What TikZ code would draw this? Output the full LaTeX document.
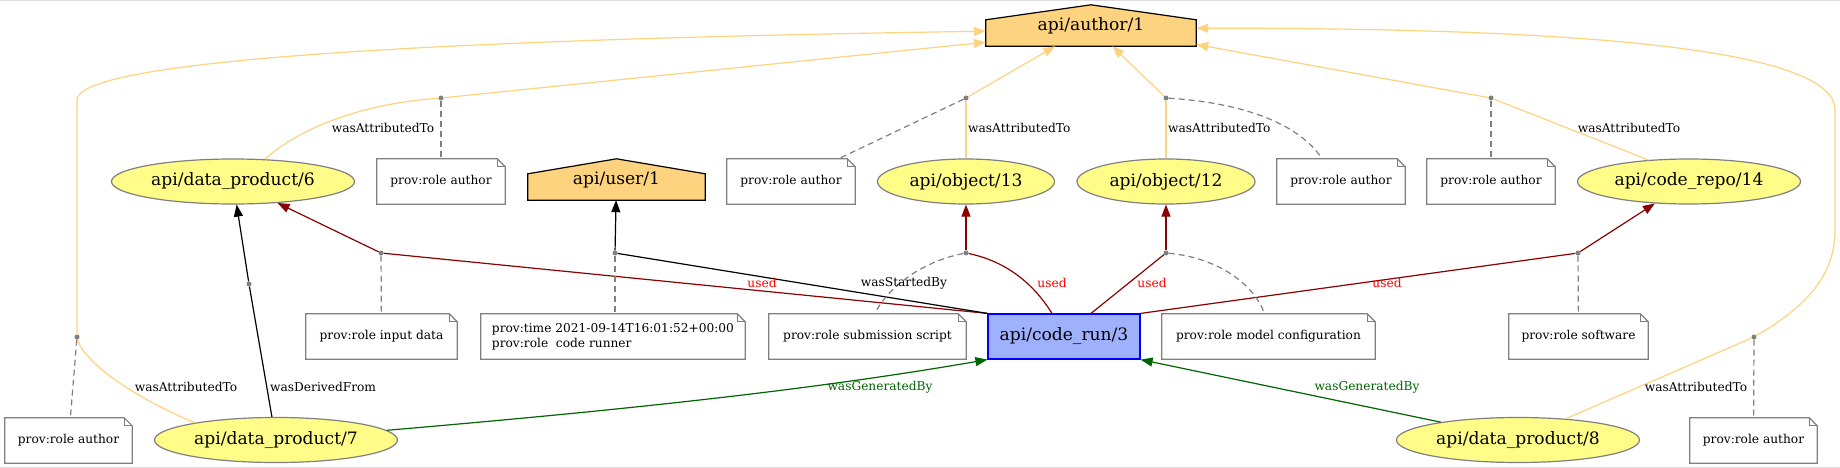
\documentclass[tikz,border=0pt]{standalone}
\usepackage{fontspec}
\setmainfont{DejaVu Serif}
\usetikzlibrary{arrows.meta,shapes.geometric,calc,backgrounds}
\definecolor{agentc}{HTML}{FED37F}
\definecolor{entityc}{HTML}{FFFC87}
\definecolor{actc}{HTML}{9FB1FC}
\definecolor{usedc}{HTML}{8B0000}
\definecolor{usedt}{HTML}{FF0000}
\definecolor{genc}{HTML}{006400}
\definecolor{notec}{HTML}{808080}
\definecolor{framec}{HTML}{DDDDDD}
\tikzset{
  bigfont/.style={font=\fontsize{17.1}{20}\selectfont},
  smallfont/.style={font=\fontsize{12.2}{15}\selectfont},
  entity/.style={ellipse, draw=notec, fill=entityc, line width=1.2pt, minimum height=45pt, inner sep=0pt, bigfont},
  agent/.style={rectangle, inner sep=0pt, minimum height=41pt, bigfont},
  agentshape/.style={draw=black, fill=agentc, line width=1.2pt, line join=miter},
  activity/.style={rectangle, draw=blue, fill=actc, line width=1.2pt, minimum width=152pt, minimum height=45pt, inner sep=0pt, bigfont},
  notebox/.style={rectangle, fill=white, minimum height=45pt, inner sep=0pt, smallfont, align=left},
  notedraw/.style={draw=notec, line width=1.2pt},
  dotpt/.style={circle, fill=notec, inner sep=0pt, minimum size=5pt},
  elabel/.style={inner sep=0pt, smallfont},
  arr/.style={-{Triangle[length=12pt,width=9pt]}},
  attr/.style={draw=agentc, line width=1.2pt},
  plainl/.style={draw=black, line width=1.2pt},
  usedl/.style={draw=usedc, line width=1.2pt},
  genl/.style={draw=genc, line width=1.2pt},
  noteline/.style={draw=notec, line width=1.2pt, dash pattern=on 6pt off 4pt},
}
\newcommand{\provnote}[5]{%
  \node[notebox, minimum width=#4] (#1) at (#2,#3) {#5};
  \draw[notedraw] (#1.south west) -- (#1.north west) -- ([xshift=-8pt]#1.north east) -- ([yshift=-8pt]#1.north east) -- (#1.south east) -- cycle;
  \draw[notedraw] ([xshift=-8pt]#1.north east) |- ([yshift=-8pt]#1.north east);
}
\begin{document}
\begin{tikzpicture}[x=1pt,y=-1pt]
\useasboundingbox (0,0) rectangle (1840,468);

% main nodes
\node[entity, minimum width=243pt] (dp6) at (233,181.5) {api/data\_product/6};
\node[entity, minimum width=177pt] (ob13) at (966,181.5) {api/object/13};
\node[entity, minimum width=178pt] (ob12) at (1166,181.5) {api/object/12};
\node[entity, minimum width=223pt] (cr14) at (1689,181.5) {api/code\_repo/14};
\node[entity, minimum width=243pt] (dp7) at (276,440) {api/data\_product/7};
\node[entity, minimum width=243pt] (dp8) at (1518,440) {api/data\_product/8};
\node[agent, minimum width=210pt] (au1) at (1091,25.5) {api/author/1};
\node[agent, minimum width=177pt] (us1) at (616.5,179.5) {api/user/1};
\node[activity] (cr3) at (1064,336.5) {api/code\_run/3};
\begin{scope}[on background layer]
  \fill[white] (0,0) rectangle (1840,468);
  \draw[framec, line width=1pt] (0,0.5) -- (1840,0.5);
  \draw[framec, line width=1pt] (0,467.3) -- (1840,467.3);
  \foreach \n in {au1,us1}
    \draw[agentshape] (\n.south west) -- ([yshift=-15pt]\n.north west) -- (\n.north) -- ([yshift=-15pt]\n.north east) -- (\n.south east) -- cycle;
\end{scope}

% notes
\provnote{n1}{441}{181.5}{128pt}{prov:role author}
\provnote{n2}{791}{181.5}{128pt}{prov:role author}
\provnote{n3}{1341}{181.5}{128pt}{prov:role author}
\provnote{n4}{1491}{181.5}{128pt}{prov:role author}
\provnote{n5}{68.5}{440.5}{127pt}{prov:role author}
\provnote{n6}{381.5}{336.5}{151pt}{prov:role input data}
\provnote{n7}{613}{336.5}{264pt}{prov:time 2021-09-14T16:01:52+00:00\\prov:role\ \ code runner}
\provnote{n8}{867.5}{336.5}{197pt}{prov:role submission script}
\provnote{n9}{1268.5}{336.5}{213pt}{prov:role model configuration}
\provnote{n10}{1578.5}{336.5}{139pt}{prov:role software}
\provnote{n11}{1753.5}{440.5}{127pt}{prov:role author}

% qualification points
\node[dotpt] (d1) at (441,98) {};
\node[dotpt] (d2) at (966,98) {};
\node[dotpt] (d3) at (1166,98) {};
\node[dotpt] (d4) at (1491,98) {};
\node[dotpt] (d5) at (77,337) {};
\node[dotpt] (d6) at (249,284) {};
\node[dotpt] (d7) at (381,253) {};
\node[dotpt] (d8) at (615,253) {};
\node[dotpt] (d9) at (966,253) {};
\node[dotpt] (d10) at (1166,253) {};
\node[dotpt] (d11) at (1578,253) {};
\node[dotpt] (d12) at (1754,337) {};

% wasAttributedTo
\draw[attr] (dp6.35) .. controls (300,128) and (360,104) .. (d1);
\draw[attr, arr] (d1) -- ([yshift=4pt]au1.south west);
\draw[attr] (ob13) -- (d2);
\draw[attr, arr] (d2) -- (au1);
\draw[attr] (ob12) -- (d3);
\draw[attr, arr] (d3) -- (au1);
\draw[attr] (cr14.152) -- (d4);
\draw[attr, arr] (d4) -- (au1);
\draw[attr] (dp7.168) .. controls (140,400) and (85,365) .. (d5);
\draw[attr, arr] (d5) -- (77,100) .. controls (77,62) and (400,40) .. ([yshift=15pt]au1.south west);
\draw[attr] (dp8.24) -- (d12);
\draw[attr, arr] (d12) .. controls (1800,310) and (1835,280) .. (1835,230) -- (1835,110) .. controls (1835,45) and (1550,28) .. ([yshift=18pt]au1.south east);

% wasDerivedFrom
\draw[plainl] (dp7.100) -- (d6);
\draw[plainl, arr] (d6) -- (dp6);

% used / wasStartedBy
\draw[usedl] (cr3.north west) -- (d7);
\draw[usedl, arr] (d7) -- (dp6);
\draw[plainl] (cr3.north west) -- (d8);
\draw[plainl, arr] (d8) -- (us1);
\draw[usedl] ([xshift=-12pt]cr3.north) .. controls (1030,278) and (1000,260) .. (d9);
\draw[usedl, arr] (d9) -- (ob13);
\draw[usedl] ([xshift=27pt]cr3.north) -- (d10);
\draw[usedl, arr] (d10) -- (ob12);
\draw[usedl] (cr3.north east) -- (d11);
\draw[usedl, arr] (d11) -- (cr14);

% wasGeneratedBy
\draw[genl, arr] (dp7.5) .. controls (600,412) and (800,392) .. (cr3.south west);
\draw[genl, arr] (dp8.167) -- (cr3.south east);

% role links
\draw[noteline] (d1) -- (n1);
\draw[noteline] (d2) -- (n2);
\draw[noteline] (d3) .. controls (1260,104) and (1305,132) .. ([xshift=-19pt]n3.north);
\draw[noteline] (d4) -- (n4);
\draw[noteline] (d5) -- (n5);
\draw[noteline] (d7) -- (n6);
\draw[noteline] (d8) -- (d8 |- n7.north);
\draw[noteline] (d9) .. controls (920,262) and (888,288) .. ([xshift=7pt]n8.north);
\draw[noteline] (d10) .. controls (1220,258) and (1255,286) .. ([xshift=-4pt]n9.north);
\draw[noteline] (d11) -- (n10);
\draw[noteline] (d12) -- (n11);

% edge labels
\node[elabel] (la1) at (383,128) {wasAttributedTo};
\node[elabel, anchor=west] (la2) at (968,128) {wasAttributedTo};
\node[elabel, anchor=west] (la3) at (1168,128) {wasAttributedTo};
\node[elabel] (la4) at (1629,128) {wasAttributedTo};
\node[elabel] (la5) at (186,387) {wasAttributedTo};
\node[elabel, anchor=west] (la6) at (270,387) {wasDerivedFrom};
\node[elabel, text=usedt] (lu1) at (762,283) {used};
\node[elabel] (ls1) at (904,283) {wasStartedBy};
\node[elabel, text=usedt] (lu2) at (1052,283) {used};
\node[elabel, text=usedt] (lu3) at (1152,283) {used};
\node[elabel, text=usedt] (lu4) at (1387,283) {used};
\node[elabel, text=genc] (lg1) at (880,387) {wasGeneratedBy};
\node[elabel, text=genc] (lg2) at (1367,387) {wasGeneratedBy};
\node[elabel] (la7) at (1696,387) {wasAttributedTo};
\end{tikzpicture}
\end{document}
